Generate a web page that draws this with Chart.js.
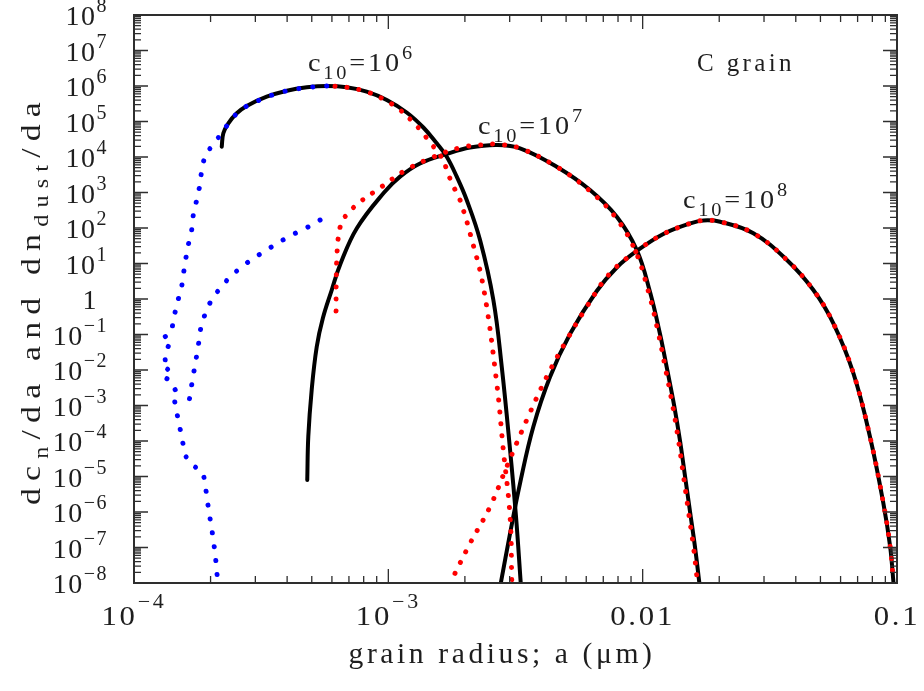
<!DOCTYPE html>
<html><head><meta charset="utf-8">
<script src="https://cdn.jsdelivr.net/npm/chart.js@4/dist/chart.umd.min.js"></script>
<style>html,body{margin:0;padding:0;background:#fff}#wrap{width:924px;height:691px}</style>
</head><body><div id="wrap"><canvas id="c" width="924" height="691"></canvas></div>
<script>
// ---------- data (a in micron, dn/da) ----------
const black1X = [2.213e-4, 2.245e-4, 2.349e-4, 2.535e-4, 2.774e-4, 3.325e-4, 3.99e-4, 4.78e-4, 5.725e-4, 6.86e-4, 8.22e-4, 9.86e-4, 1.181e-3, 1.373e-3, 1.55e-3, 1.697e-3, 1.858e-3, 2.033e-3, 2.294e-3, 2.588e-3, 2.792e-3, 3.011e-3, 3.177e-3, 3.316e-3];
const black1Y = [1.95e4, 4.65e4, 8.89e4, 1.70e5, 2.74e5, 5.0e5, 7.38e5, 9.19e5, 1.0e6, 9.19e5, 6.91e5, 4.03e5, 1.79e5, 6.78e4, 2.43e4, 1.02e4, 2.79e3, 615, 45.9, 0.938, 0.0124, 5.57e-5, 7.38e-7, 1.0e-8];
const red1X = [6.17e-4, 6.86e-4, 8.22e-4, 9.86e-4, 1.112e-3, 1.236e-3, 1.353e-3, 1.468e-3, 1.597e-3, 1.697e-3, 1.776e-3, 1.885e-3, 1.962e-3, 2.096e-3, 2.363e-3, 2.669e-3, 2.832e-3, 3.011e-3, 3.057e-3];
const red1Y = [9.82e5, 9.19e5, 6.91e5, 3.78e5, 2.11e5, 1.05e5, 5.16e4, 2.43e4, 1.14e4, 4.51e3, 1.82e3, 797, 359, 71, 2.22, 4.22e-3, 5.57e-5, 7.38e-7, 1.22e-8];
const black2X = [4.80e-4, 4.845e-4, 4.996e-4, 5.23e-4, 5.53e-4, 5.99e-4, 6.49e-4, 7.53e-4, 9.62e-4, 1.112e-3, 1.332e-3, 1.697e-3, 2.096e-3, 2.669e-3, 3.295e-3, 4.59e-3, 6.21e-3, 7.91e-3, 9.48e-3, 1.069e-2, 1.170e-2, 1.247e-2, 1.329e-2, 1.403e-2, 1.468e-2, 1.536e-2, 1.607e-2, 1.671e-2];
const black2Y = [7.96e-6, 1.32e-4, 2.74e-3, 0.0453, 0.292, 1.79, 10, 100, 1000, 2.79e3, 6.56e3, 1.22e4, 1.85e4, 2.18e4, 1.76e4, 5.33e3, 1175, 208, 24.0, 1.57, 0.103, 0.0107, 1.03e-3, 1e-4, 1e-5, 1e-6, 1e-7, 1e-8];
const red2X = [6.23e-4, 6.24e-4, 6.28e-4, 6.37e-4, 6.57e-4, 7.01e-4, 7.74e-4, 9.42e-4, 1.174e-3, 1.495e-3, 1.913e-3, 2.294e-3, 2.669e-3, 3.295e-3, 4.59e-3, 6.13e-3, 7.79e-3, 9.33e-3, 1.055e-2, 1.155e-2, 1.230e-2, 1.311e-2, 1.384e-2, 1.448e-2, 1.515e-2, 1.585e-2, 1.644e-2];
const red2Y = [0.459, 3.43, 17.3, 59.6, 148, 282, 540, 1.46e3, 4.31e3, 9.81e3, 1.83e4, 2.18e4, 2.28e4, 1.76e4, 5.33e3, 1175, 208, 24.0, 1.57, 0.103, 0.0107, 1.03e-3, 1e-4, 1e-5, 1e-6, 1e-7, 1e-8];
const black3X = [2.767e-3, 3.011e-3, 3.295e-3, 3.716e-3, 4.325e-3, 5.18e-3, 6.60e-3, 7.91e-3, 9.48e-3, 1.206e-2, 1.536e-2, 1.733e-2, 2.016e-2, 2.724e-2, 3.69e-2, 4.69e-2, 5.62e-2, 6.74e-2, 7.83e-2, 8.84e-2, 9.40e-2, 9.68e-2];
const black3Y = [9.8e-9, 2.51e-7, 6.43e-6, 2.53e-4, 6.47e-3, 0.103, 1.68, 7.71, 22.5, 67.8, 134, 163, 150, 71, 12.6, 1.79, 0.207, 8.07e-3, 1.32e-4, 1.76e-6, 1.05e-7, 1.09e-8];
const red3X = [1.829e-3, 2.096e-3, 2.512e-3, 2.921e-3, 3.50e-3, 4.197e-3, 5.03e-3, 6.03e-3, 7.44e-3, 9.48e-3, 1.206e-2, 1.536e-2, 1.733e-2, 2.016e-2, 2.724e-2, 3.69e-2, 4.69e-2, 5.62e-2, 6.74e-2, 7.83e-2, 8.84e-2, 9.40e-2, 9.68e-2];
const red3Y = [1.88e-8, 1.31e-7, 1.41e-6, 1.89e-5, 3.91e-4, 6.47e-3, 0.070, 0.607, 5.30, 22.5, 67.8, 134, 163, 150, 71, 12.6, 1.79, 0.207, 8.07e-3, 1.32e-4, 1.76e-6, 1.05e-7, 1.09e-8];
const blueAX = [5.725e-4, 4.78e-4, 3.99e-4, 3.325e-4, 2.774e-4, 2.535e-4, 2.349e-4, 2.25e-4, 2.082e-4, 1.902e-4, 1.845e-4, 1.817e-4, 1.764e-4, 1.710e-4, 1.686e-4, 1.634e-4, 1.586e-4, 1.540e-4, 1.480e-4, 1.427e-4, 1.406e-4, 1.288e-4, 1.364e-4, 1.324e-4, 1.327e-4, 1.297e-4, 1.361e-4, 1.292e-4, 1.381e-4, 1.402e-4, 1.480e-4, 1.437e-4, 1.472e-4, 1.513e-4, 1.554e-4, 1.601e-4, 1.721e-4, 1.873e-4, 1.914e-4, 1.949e-4, 1.990e-4, 2.032e-4, 2.070e-4, 2.102e-4, 2.127e-4];
const blueAY = [1.0e6, 9.19e5, 7.38e5, 5.0e5, 2.74e5, 1.70e5, 8.89e4, 5.5e4, 2.65e4, 1.14e4, 4.31e3, 1.63e3, 615, 232, 87.9, 33.2, 10.1, 2.22, 0.787, 0.256, 0.1175, 0.0746, 0.0466, 0.0288, 0.0176, 0.01216, 0.01089, 6.78e-3, 5.13e-3, 4.22e-3, 2.21e-3, 1.63e-3, 6.43e-4, 2.48e-4, 9.18e-5, 3.61e-5, 1.98e-5, 1.23e-5, 4.66e-6, 1.76e-6, 6.65e-7, 2.61e-7, 9.86e-8, 3.73e-8, 1.38e-8];
const blueBX = [5.39e-4, 4.78e-4, 4.17e-4, 3.69e-4, 3.325e-4, 2.944e-4, 2.65e-4, 2.385e-4, 2.179e-4, 2.021e-4, 1.902e-4, 1.829e-4, 1.796e-4, 1.758e-4, 1.717e-4, 1.680e-4, 1.646e-4, 1.583e-4];
const blueBY = [168, 102, 63.5, 38.5, 24.0, 14.0, 8.13, 4.25, 2.0, 1.0, 0.378, 0.150, 0.0577, 0.0222, 8.39e-3, 3.26e-3, 1.28e-3, 9.48e-4];

// tick labels
const xTickValues = [1e-4, 1e-3, 1e-2, 1e-1];
const xTickBase = ['10', '10', '0.01', '0.1'];
const xTickExp = ['\u22124', '\u22123', '', ''];
const yTickValues = [1e8, 1e7, 1e6, 1e5, 1e4, 1e3, 1e2, 1e1, 1, 1e-1, 1e-2, 1e-3, 1e-4, 1e-5, 1e-6, 1e-7, 1e-8];
const yTickBase = ['10','10','10','10','10','10','10','10','1','10','10','10','10','10','10','10','10'];
const yTickExp = ['8','7','6','5','4','3','2','1','','\u22121','\u22122','\u22123','\u22124','\u22125','\u22126','\u22127','\u22128'];
const minorMantissas = [2, 3, 4, 5, 6, 7, 8, 9];
const curveLabels = ['6', '7', '8'];

// ---------- helpers ----------
const zip = (xs, ys) => xs.map((x, i) => ({x: x, y: ys[i]}));
const FONT = '"Liberation Serif", "Times New Roman", serif';
const INK = '#1e1e1e';

function measureParts(ctx, parts, ls) {
  let w = 0;
  for (const p of parts) {
    ctx.font = p.size + 'px ' + FONT;
    ctx.letterSpacing = ls + 'px';
    w += ctx.measureText(p.t).width;
  }
  return w;
}
function drawParts(ctx, parts, x, y, opt) {
  const ls = opt.ls || 0;
  ctx.save();
  ctx.translate(x, y);
  if (opt.rot) ctx.rotate(opt.rot);
  const w = measureParts(ctx, parts, ls);
  const s = opt.target ? opt.target / w : (opt.stretch || 1);
  ctx.scale(s, 1);
  let cx = opt.align === 'center' ? -w / 2 : (opt.align === 'right' ? -w : 0);
  ctx.textAlign = 'left';
  ctx.textBaseline = 'alphabetic';
  ctx.fillStyle = INK;
  for (const p of parts) {
    ctx.font = p.size + 'px ' + FONT;
    ctx.letterSpacing = ls + 'px';
    ctx.fillText(p.t, cx, p.dy || 0);
    cx += ctx.measureText(p.t).width;
  }
  ctx.restore();
}

const decorPlugin = {
  id: 'decor',
  afterDraw(chart) {
    const ctx = chart.ctx, a = chart.chartArea;
    const xs = chart.scales.x, ys = chart.scales.y;
    ctx.save();
    ctx.strokeStyle = '#2e2e2e';
    ctx.lineWidth = 2;
    ctx.strokeRect(a.left, a.top, a.right - a.left, a.bottom - a.top);
    ctx.lineWidth = 1.3;
    ctx.beginPath();
    const MAJ = 14, MIN = 7;
    xTickValues.forEach(v => {
      const px = xs.getPixelForValue(v);
      ctx.moveTo(px, a.bottom); ctx.lineTo(px, a.bottom - MAJ);
      ctx.moveTo(px, a.top); ctx.lineTo(px, a.top + MAJ);
      minorMantissas.forEach(m => {
        const mv = v * m;
        if (mv >= xs.max) return;
        const mp = xs.getPixelForValue(mv);
        ctx.moveTo(mp, a.bottom); ctx.lineTo(mp, a.bottom - MIN);
        ctx.moveTo(mp, a.top); ctx.lineTo(mp, a.top + MIN);
      });
    });
    yTickValues.forEach(v => {
      const py = ys.getPixelForValue(v);
      ctx.moveTo(a.left, py); ctx.lineTo(a.left + MAJ, py);
      ctx.moveTo(a.right, py); ctx.lineTo(a.right - MAJ, py);
      minorMantissas.forEach(m => {
        const mv = v * m;
        if (mv >= ys.max) return;
        const mp = ys.getPixelForValue(mv);
        ctx.moveTo(a.left, mp); ctx.lineTo(a.left + MIN, mp);
        ctx.moveTo(a.right, mp); ctx.lineTo(a.right - MIN, mp);
      });
    });
    ctx.stroke();
    ctx.restore();

    xTickValues.forEach((v, i) => {
      const px = xs.getPixelForValue(v);
      const parts = [{t: xTickBase[i], size: 28}];
      if (xTickExp[i]) parts.push({t: xTickExp[i], size: 20, dy: -17});
      drawParts(ctx, parts, px, a.bottom + 42, {align: 'center', stretch: 1.1, ls: 2.5});
    });
    yTickValues.forEach((v, i) => {
      const py = ys.getPixelForValue(v);
      const parts = [{t: yTickBase[i], size: 28}];
      if (yTickExp[i]) parts.push({t: yTickExp[i], size: 20, dy: -13});
      drawParts(ctx, parts, yTickExp[i] ? a.left - 26 : a.left - 36, py + 10, {align: 'right', stretch: 1.0, ls: 1.5});
    });
    drawParts(ctx, [{t: 'grain radius; a (\u03bcm)', size: 29}], 502, 663, {align: 'center', target: 307, ls: 3.5});
    drawParts(ctx, [
      {t: 'dc', size: 28}, {t: 'n', size: 20, dy: 8}, {t: '/da and dn', size: 28},
      {t: 'dust', size: 20, dy: 8}, {t: '/da', size: 28}
    ], 40, 300, {align: 'center', target: 410, ls: 6, rot: -Math.PI / 2});
    const labelPos = [[308, 71], [478, 134], [683, 208]];
    curveLabels.forEach((e, i) => {
      drawParts(ctx, [
        {t: 'c', size: 25}, {t: '10', size: 18, dy: 8}, {t: '=10', size: 25}, {t: e, size: 18, dy: -12}
      ], labelPos[i][0], labelPos[i][1], {align: 'left', target: 107, ls: 2.5});
    });
    drawParts(ctx, [{t: 'C grain', size: 26}], 697, 71, {align: 'left', target: 98, ls: 3.5});
  }
};

const dotted = (color, gap) => ({
  borderColor: color, borderWidth: 5, borderDash: [0.01, gap], borderCapStyle: 'round',
  pointRadius: 0, showLine: true, fill: false
});
const solid = () => ({
  borderColor: '#000', borderWidth: 4, borderCapStyle: 'round', borderJoinStyle: 'round',
  pointRadius: 0, showLine: true, fill: false, tension: 0.4
});

new Chart(document.getElementById('c'), {
  type: 'scatter',
  data: {
    datasets: [
      Object.assign(dotted('#0000ff', 14), {data: zip(blueAX, blueAY), tension: 0}),
      Object.assign(dotted('#0000ff', 14), {data: zip(blueBX, blueBY), tension: 0}),
      Object.assign(dotted('#ff0000', 12), {data: zip(red1X, red1Y), tension: 0.4}),
      Object.assign(dotted('#ff0000', 12), {data: zip(red2X, red2Y), tension: 0.4}),
      Object.assign(dotted('#ff0000', 12), {data: zip(red3X, red3Y), tension: 0.4}),
      Object.assign(solid(), {data: zip(black1X, black1Y)}),
      Object.assign(solid(), {data: zip(black2X, black2Y)}),
      Object.assign(solid(), {data: zip(black3X, black3Y)})
    ]
  },
  options: {
    responsive: false,
    animation: false,
    devicePixelRatio: 1,
    layout: {padding: {left: 134, right: 27, top: 15, bottom: 108}},
    plugins: {legend: {display: false}, tooltip: {enabled: false}},
    scales: {
      x: {type: 'logarithmic', min: 1e-4, max: 0.1,
          ticks: {display: false}, grid: {display: false, drawTicks: false}, border: {display: false}},
      y: {type: 'logarithmic', min: 1e-8, max: 1e8,
          ticks: {display: false}, grid: {display: false, drawTicks: false}, border: {display: false}}
    }
  },
  plugins: [decorPlugin]
});
</script></body></html>
